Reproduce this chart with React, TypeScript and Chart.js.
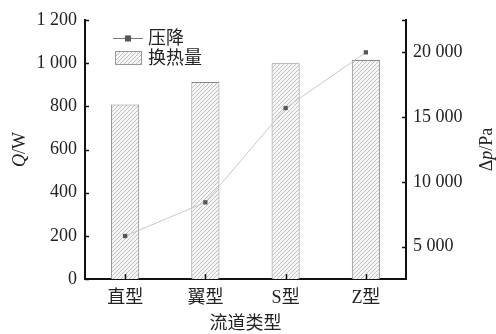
import React, { useEffect, useRef } from "react";
import { Chart, registerables } from "chart.js";

Chart.register(...registerables);

const categories = ["直型", "翼型", "S型", "Z型"];
const heatValues = [808, 913, 1000, 1015];
const pressureValues = [5820, 8420, 15700, 20000];
const rightTicks = [5000, 10000, 15000, 20000];
const legendPressure = "压降";
const legendHeat = "换热量";
const xTitle = "流道类型";

const FONT = "'Liberation Serif', 'Times New Roman', 'DejaVu Serif', 'Noto Sans CJK SC', serif";
Chart.defaults.font.family = FONT;

function fmt(v: number): string {
  const s = String(Math.round(v));
  return s.replace(/\B(?=(\d{3})+(?!\d))/g, " ");
}

function makeHatch(): CanvasPattern | string {
  const c = document.createElement("canvas");
  const n = 4;
  c.width = n;
  c.height = n;
  const g = c.getContext("2d");
  if (!g) return "#eee";
  g.fillStyle = "#f7f7f7";
  g.fillRect(0, 0, n, n);
  g.strokeStyle = "#a8a8a8";
  g.lineWidth = 0.7;
  g.beginPath();
  g.moveTo(0, n);
  g.lineTo(n, 0);
  g.moveTo(-1, 1);
  g.lineTo(1, -1);
  g.moveTo(n - 1, n + 1);
  g.lineTo(n + 1, n - 1);
  g.stroke();
  const p = g.createPattern(c, "repeat");
  return p || "#eee";
}

const decorPlugin = {
  id: "decor",
  afterDraw(chart: any) {
    const ctx = chart.ctx as CanvasRenderingContext2D;
    const area = chart.chartArea;
    const y = chart.scales.y;
    const y1 = chart.scales.y1;
    const x = chart.scales.x;
    ctx.save();
    ctx.strokeStyle = "#111";
    ctx.lineWidth = 1.5;
    y.ticks.forEach((t: any) => {
      const py = Math.round(y.getPixelForValue(t.value)) + 0.5;
      ctx.beginPath();
      ctx.moveTo(area.left, py);
      ctx.lineTo(area.left + 4, py);
      ctx.stroke();
    });
    const rv = [...y1.ticks.map((t: any) => t.value), y1.max];
    rv.forEach((v: number) => {
      const py = Math.round(y1.getPixelForValue(v)) + 0.5;
      ctx.beginPath();
      ctx.moveTo(area.right, py);
      ctx.lineTo(area.right - 4, py);
      ctx.stroke();
    });
    categories.forEach((_c, i) => {
      const px = Math.round(x.getPixelForValue(i)) + 0.5;
      ctx.beginPath();
      ctx.moveTo(px, area.bottom);
      ctx.lineTo(px, area.bottom - 5);
      ctx.stroke();
    });

    // legend
    const lx = area.left + 28;
    const ly1 = area.top + 18;
    const ly2 = area.top + 38;
    ctx.strokeStyle = "#777";
    ctx.lineWidth = 1;
    ctx.beginPath();
    ctx.moveTo(lx, ly1 + 0.5);
    ctx.lineTo(lx + 30, ly1 + 0.5);
    ctx.stroke();
    ctx.fillStyle = "#555";
    ctx.fillRect(lx + 12, ly1 - 2.5, 6, 6);
    ctx.fillStyle = chart.$hatch;
    ctx.fillRect(lx + 2, ly2 - 7, 27, 14);
    ctx.strokeStyle = "#999";
    ctx.strokeRect(lx + 2.5, ly2 - 6.5, 26, 13);
    ctx.fillStyle = "#222";
    ctx.font = `18px ${FONT}`;
    ctx.textBaseline = "middle";
    ctx.textAlign = "left";
    ctx.fillText(legendPressure, lx + 35, ly1 + 1);
    ctx.fillText(legendHeat, lx + 35, ly2 + 1);

    const drawParts = (parts: [string, boolean][], cx: number, cy: number) => {
      let total = 0;
      const widths = parts.map(([s, it]) => {
        ctx.font = `${it ? "italic " : ""}18px ${FONT}`;
        const w = ctx.measureText(s).width;
        total += w;
        return w;
      });
      ctx.save();
      ctx.translate(cx, cy);
      ctx.rotate(-Math.PI / 2);
      let xx = -total / 2;
      parts.forEach(([s, it], i) => {
        ctx.font = `${it ? "italic " : ""}18px ${FONT}`;
        ctx.fillText(s, xx, 0);
        xx += widths[i];
      });
      ctx.restore();
    };
    ctx.textAlign = "left";
    ctx.textBaseline = "middle";
    drawParts([["Q", true], ["/W", false]], 20, (area.top + area.bottom) / 2);
    drawParts([["Δ", false], ["p", true], ["/Pa", false]], 487, (area.top + area.bottom) / 2);
    ctx.font = `18px ${FONT}`;
    ctx.textAlign = "center";
    ctx.fillText(xTitle, (area.left + area.right) / 2, 324);
    ctx.restore();
  },
};

export default function App() {
  const ref = useRef<HTMLCanvasElement | null>(null);
  useEffect(() => {
    if (!ref.current) return;
    const hatch = makeHatch();
    const tickFont = { family: FONT, size: 18 };
    const chart: any = new Chart(ref.current, {
      type: "bar",
      data: {
        labels: categories,
        datasets: [
          {
            type: "line",
            label: legendPressure,
            data: pressureValues,
            yAxisID: "y1",
            borderColor: "#c8c8c8",
            borderWidth: 1,
            pointStyle: "rect",
            pointRadius: 3,
            pointBackgroundColor: "#555",
            pointBorderColor: "#555",
            pointBorderWidth: 0,
            order: 0,
          } as any,
          {
            type: "bar",
            label: legendHeat,
            data: heatValues,
            yAxisID: "y",
            backgroundColor: hatch as any,
            borderColor: "#8a8a8a",
            borderWidth: 1,
            barPercentage: 0.35,
            categoryPercentage: 1,
            order: 1,
          } as any,
        ],
      },
      options: {
        responsive: false,
        animation: false,
        layout: { padding: { top: 20, left: 0, right: 0, bottom: 0 } },
        plugins: { legend: { display: false }, tooltip: { enabled: false } },
        scales: {
          x: {
            type: "category",
            offset: true,
            grid: { display: false, drawTicks: false },
            border: { display: true, color: "#111", width: 2 },
            ticks: { color: "#222", font: tickFont, padding: 8, maxRotation: 0 },
            afterFit: (s: any) => {
              s.height = 55;
            },
          },
          y: {
            position: "left",
            min: 0,
            max: 1200,
            grid: { display: false, drawTicks: false },
            border: { display: true, color: "#111", width: 2 },
            ticks: {
              stepSize: 200,
              color: "#222",
              font: tickFont,
              padding: 8,
              callback: (v: any) => fmt(Number(v)),
            },
            afterFit: (s: any) => {
              s.width = 85;
            },
          },
          y1: {
            position: "right",
            min: 2500,
            max: 22500,
            grid: { display: false, drawTicks: false },
            border: { display: true, color: "#111", width: 2 },
            afterBuildTicks: (s: any) => {
              s.ticks = rightTicks.map((v) => ({ value: v }));
            },
            ticks: {
              color: "#222",
              font: tickFont,
              padding: 7,
              callback: (v: any) => fmt(Number(v)),
            },
            afterFit: (s: any) => {
              s.width = 90;
            },
          },
        },
      },
      plugins: [decorPlugin],
    });
    chart.$hatch = hatch;
    chart.draw();
    return () => chart.destroy();
  }, []);
  return (
    <div style={{ position: "fixed", left: 0, top: 0, width: 496, height: 334, background: "#fff" }}>
      <canvas ref={ref} width={496} height={334} style={{ display: "block" }} />
    </div>
  );
}
